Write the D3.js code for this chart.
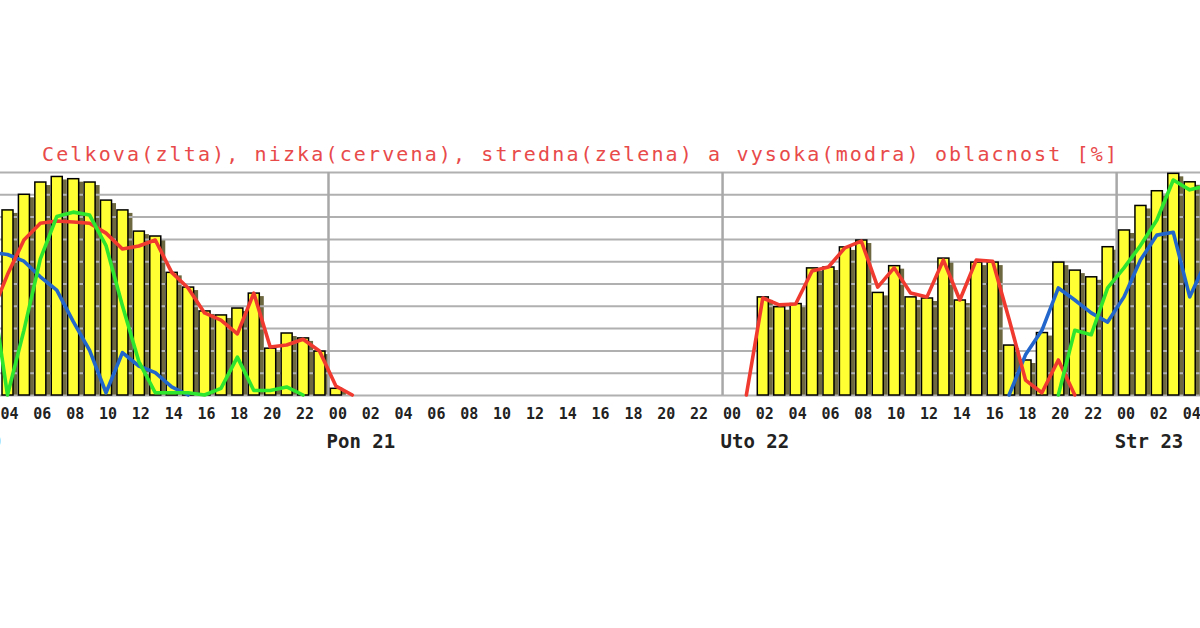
<!DOCTYPE html>
<html><head><meta charset="utf-8">
<script src="https://cdn.jsdelivr.net/npm/d3@7"></script>
<style>
html,body{margin:0;padding:0;background:#fff;}
svg{display:block;}
</style></head>
<body>
<svg id="chart" width="1200" height="628"></svg>
<script>
// ---- data (hour index counted from Ned 20 00:00) ----
const titleText = "Celkova(zlta), nizka(cervena), stredna(zelena) a vysoka(modra) oblacnost [%]";
const dayLabels = ["Ned 20", "Pon 21", "Uto 22", "Str 23"];
const dayStartHours = [0, 24, 48, 72];
const tickHours = d3.range(4, 77, 2);
const yTicks = [0, 10, 20, 30, 40, 50, 60, 70, 80, 90, 100];

// total cloudiness (yellow bars), runs of consecutive hours
const totalCloud = [
  { from: 4,  values: [83, 90, 95.5, 98, 97, 95.5, 87.4, 83, 73.5, 71.3, 55, 48.4, 37.7, 35.9, 39, 45.7, 21, 27.8, 25.6, 19.7, 3] },
  { from: 50, values: [44, 39.6, 41, 57, 57.4, 66.4, 69.5, 46, 58, 44, 43.5, 61.4, 42.6, 59.6, 59.6, 22.4, 15.7, 28, 59.6, 56, 53, 66.5, 74, 85, 91.6, 99.4, 95.6, 94] }
];
// low cloudiness (red)
const lowCloud = [
  { from: 3,  values: [36, 54, 69.5, 77, 78, 77.6, 77, 72.6, 65.5, 66.8, 69.5, 55, 48, 36.8, 33.6, 27.4, 45.7, 21.5, 22.4, 25, 19.7, 4, 0] },
  { from: 49, values: [0, 43.5, 40.4, 40.8, 55.6, 57.4, 66, 69, 48.4, 57, 45.7, 44, 60.5, 42.6, 60.5, 60, 34, 6.7, 1, 15.7, 0] }
];
// middle cloudiness (green)
const midCloud = [
  { from: 3,  values: [50, 0, 29, 61, 80, 82, 80.7, 67, 40, 15, 1, 1, 1, 0, 3, 17, 2, 2, 3.6, 0] },
  { from: 68, values: [0, 29, 27, 48, 57, 67, 78.5, 96.4, 92, 93.7] }
];
// high cloudiness (blue)
const highCloud = [
  { from: 3,  values: [64, 63, 60, 53, 47, 33, 20, 1, 19, 13, 10, 3.6, 0] },
  { from: 65, values: [0, 18, 29, 48, 42.6, 36.8, 32.7, 44, 60.5, 71.7, 73, 44, 60] }
];

// ---- drawing ----
const W = 1200, H = 628;
const svg = d3.select("#chart");
const x = d3.scaleLinear().domain([4, 76]).range([7.5, 1189.7]);
const y = d3.scaleLinear().domain([0, 100]).range([395, 172]);

const toPoints = run => run.values.map((v, i) => ({ t: run.from + i, v }));

// title
svg.append("text")
  .attr("x", 579.5).attr("y", 161)
  .attr("text-anchor", "middle")
  .attr("textLength", 1075).attr("lengthAdjust", "spacing")
  .style("font-family", "'DejaVu Sans Mono', monospace")
  .style("font-size", "20px")
  .style("fill", "#e84a4a")
  .text(titleText);

const bars = totalCloud.flatMap(toPoints);

// bar shadows (under the grid)
svg.append("g").selectAll("rect").data(bars).join("rect")
  .attr("x", d => x(d.t) - 1.5)
  .attr("y", d => Math.min(y(d.v) + 3, y(0)))
  .attr("width", 11.5)
  .attr("height", d => Math.max(0, y(0) - y(d.v) - 3))
  .attr("fill", "#6e6840");

// horizontal grid
const grid = svg.append("g")
  .call(d3.axisRight(y).tickValues(yTicks).tickSize(W).tickFormat(""));
grid.select(".domain").remove();
grid.selectAll("line").attr("stroke", "#b0b0b0").attr("stroke-width", 2);

// day separators
svg.append("g").selectAll("line").data(dayStartHours.slice(1)).join("line")
  .attr("x1", d => x(d - 0.45)).attr("x2", d => x(d - 0.45))
  .attr("y1", y(100)).attr("y2", y(0))
  .attr("stroke", "#a8a8a8").attr("stroke-width", 2.5);

// bars
svg.append("g").selectAll("rect").data(bars).join("rect")
  .attr("x", d => x(d.t) - 5.5)
  .attr("y", d => y(d.v))
  .attr("width", 11)
  .attr("height", d => y(0) - y(d.v))
  .attr("fill", "#ffff33")
  .attr("stroke", "#000")
  .attr("stroke-width", 1.5);

// lines
const line = d3.line().x(d => x(d.t)).y(d => y(d.v)).curve(d3.curveLinear);
function drawSeries(runs, color) {
  svg.append("g").selectAll("path").data(runs.map(toPoints)).join("path")
    .attr("d", line)
    .attr("fill", "none")
    .attr("stroke", color)
    .attr("stroke-width", 3.6)
    .attr("stroke-linejoin", "round")
    .attr("stroke-linecap", "round");
}
drawSeries(highCloud, "#2266cc");
drawSeries(lowCloud, "#f03a30");
drawSeries(midCloud, "#2ee62e");

// hour labels
const xAxis = svg.append("g")
  .attr("transform", "translate(1.5,419)")
  .call(d3.axisBottom(x).tickValues(tickHours).tickSize(0).tickPadding(0)
    .tickFormat(t => d3.format("02d")(t % 24)));
xAxis.select(".domain").remove();
xAxis.selectAll("text")
  .attr("dy", 0)
  .style("font-family", "'DejaVu Sans Mono', monospace")
  .style("font-size", "15px")
  .style("font-weight", "bold")
  .style("fill", "#222");

// day labels
svg.append("g").selectAll("text").data(dayLabels).join("text")
  .attr("x", (d, i) => x(dayStartHours[i] - 0.45) - 2)
  .attr("y", 448)
  .style("font-family", "'DejaVu Sans Mono', monospace")
  .style("font-size", "19px")
  .style("font-weight", "bold")
  .style("fill", "#222")
  .text(d => d);
</script>
</body></html>
